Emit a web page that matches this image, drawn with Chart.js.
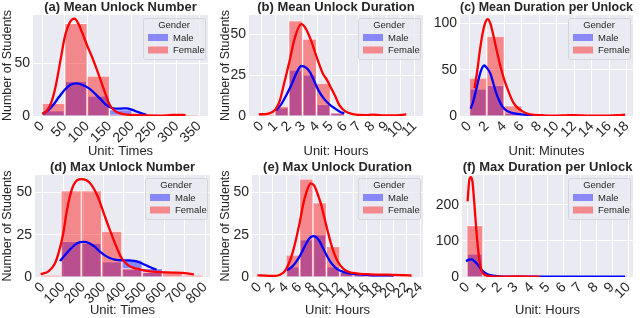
<!DOCTYPE html>
<html>
<head>
<meta charset="utf-8">
<script src="https://cdn.jsdelivr.net/npm/chart.js@4.4.1/dist/chart.umd.min.js"></script>
<style>
  body { margin: 0; width: 640px; height: 318px; position: relative; overflow: hidden; background: #fff; }
  canvas { position: absolute; }
</style>
</head>
<body>
<script>
// ---- data ----
const titles = ['(a) Mean Unlock Number', '(b) Mean Unlock Duration', '(c) Mean Duration per Unlock',
                '(d) Max Unlock Number', '(e) Max Unlock Duration', '(f) Max Duration per Unlock'];
const xLabels = ['Unit: Times', 'Unit: Hours', 'Unit: Minutes', 'Unit: Times', 'Unit: Hours', 'Unit: Hours'];
const yLabel = 'Number of Students';
const genders = ['Male', 'Female'];

// (a)
const aXTicks = [0, 50, 100, 150, 200, 250, 300, 350];
const aYTicks = [0, 50];
const aBins = [25, 75, 125, 175, 225, 275, 325];
const aFemale = [12, 88, 38, 1, 0, 0, 1];
const aMale = [5, 33, 19, 6, 0, 0, 0];
const aFemaleKdeX = [0, 10, 20, 30, 40, 50, 60, 72, 80, 90, 100, 110, 120, 130, 140, 150, 160, 170, 185, 200, 230, 260, 285, 300, 320];
const aFemaleKdeY = [2, 5, 13, 29, 52, 75, 88, 92.5, 88, 78, 67, 57, 46, 34, 22, 11, 5.5, 3, 1.5, 1, 0.5, 0.4, 0.8, 1.1, 0.9];
const aMaleKdeX = [0, 12, 25, 37, 50, 62, 76, 90, 105, 118, 130, 140, 150, 162, 175, 188, 200, 212, 225, 233];
const aMaleKdeY = [2, 5, 11, 18, 25, 29.5, 31, 29.5, 26, 21, 16, 11.5, 8.5, 7, 7, 7.3, 6, 4, 2, 1];

// (b)
const bXTicks = [0, 1, 2, 3, 4, 5, 6, 7, 8, 9, 10, 11];
const bYTicks = [0, 25, 50];
const bBins = [0.45, 1.45, 2.45, 3.45, 4.45, 5.45];
const bFemale = [1, 6, 58, 47, 20, 2];
const bMale = [0, 5, 28, 25, 7, 2];
const bFemaleKdeX = [-0.2, 0.5, 1, 1.3, 1.6, 2, 2.4, 2.86, 3.2, 3.6, 4, 4.4, 4.7, 5, 5.3, 5.6, 6, 6.5, 7, 7.5, 8, 8.5, 9, 9.5, 10, 10.4];
const bFemaleKdeY = [1, 1.5, 4, 9, 19, 33, 48, 56, 53, 45, 35, 26, 22, 17, 12, 6.5, 3, 1.3, 0.6, 0.5, 0.8, 0.5, 0.3, 0.3, 0.6, 1];
const bMaleKdeX = [1.05, 1.4, 1.8, 2.2, 2.5, 2.86, 3.2, 3.5, 3.8, 4.1, 4.4, 4.7, 5, 5.3, 5.6, 5.95];
const bMaleKdeY = [3.5, 7, 13, 20, 26, 30.5, 29.5, 26.5, 21, 15.5, 11.5, 8.5, 6.2, 4.5, 2.8, 1.5];

// (c)
const cXTicks = [0, 2, 4, 6, 8, 10, 12, 14, 16, 18];
const cYTicks = [0, 50, 100];
const cBins = [1, 3, 5, 7, 9, 11, 13, 15, 17];
const cFemale = [41, 86, 11, 1, 0, 1, 0, 0, 1];
const cMale = [29, 33, 3, 1, 0, 0, 0, 0, 0];
const cFemaleKdeX = [0.6, 0.9, 1.2, 1.5, 1.8, 2.1, 2.4, 2.8, 3.2, 3.6, 4, 4.5, 5, 5.5, 6, 6.5, 7, 8, 9, 10, 11, 12, 13, 14, 15, 16, 17, 17.8];
const cFemaleKdeY = [30, 48, 70, 88, 100, 104.5, 100, 85, 68, 52, 39, 26, 15, 9, 5.5, 3, 1.8, 0.8, 0.4, 0.4, 0.7, 1, 0.6, 0.3, 0.3, 0.4, 0.9, 1.5];
const cMaleKdeX = [0.15, 0.4, 0.7, 1, 1.3, 1.7, 2, 2.4, 2.7, 3, 3.4, 3.8, 4.3, 5, 6, 7, 8, 8.5];
const cMaleKdeY = [8, 14, 25, 37, 48, 54.5, 52, 46, 37, 27, 17, 10, 5.5, 3, 1.8, 1, 0.5, 0.5];

// (d)
const dXTicks = [0, 100, 200, 300, 400, 500, 600, 700, 800];
const dYTicks = [0, 25, 50];
const dBins = [40, 140, 240, 340, 440, 540, 640, 740];
const dFemale = [1, 51, 51, 27, 5, 3, 3, 1];
const dMale = [0, 21, 20, 9, 10, 5, 0, 0];
const dFemaleKdeX = [-10, 30, 60, 80, 100, 120, 150, 192, 230, 270, 300, 330, 356, 385, 400, 420, 445, 480, 520, 560, 610, 650, 690, 720, 745];
const dFemaleKdeY = [1.6, 3.5, 8, 15, 25, 40, 54, 58, 56, 48, 38, 28, 20, 12, 9.5, 7, 5.5, 4.5, 3.5, 3, 2.7, 2.6, 2.5, 2, 1.5];
const dMaleKdeX = [85, 110, 140, 170, 200, 230, 260, 282, 310, 340, 370, 400, 430, 463, 490, 520, 545, 561];
const dMaleKdeY = [9.5, 13, 17, 20, 20.8, 20, 17.5, 15, 12.5, 10.8, 10, 9.9, 9.8, 9.3, 8, 6.3, 5, 4.4];

// (e)
const eXTicks = [0, 2, 4, 6, 8, 10, 12, 14, 16, 18, 20, 22, 24];
const eYTicks = [0, 25, 50];
const eBins = [1, 3, 5, 7, 9, 11, 13, 15, 17, 19, 21];
const eFemale = [1, 0, 13, 58, 44, 18, 3, 2, 1, 1, 1];
const eMale = [0, 0, 6, 22, 25, 6, 3, 1, 1, 1, 0];
const eFemaleKdeX = [-0.3, 1, 2, 3, 3.8, 4.5, 5, 5.5, 6, 6.5, 7, 7.65, 8.2, 8.7, 9.2, 9.7, 10.2, 10.7, 11.2, 11.7, 12.5, 13.3, 14, 15, 16.5, 18, 20, 21.5, 22.7];
const eFemaleKdeY = [1, 0.8, 0.6, 1.2, 3.5, 9, 15, 23, 32, 42.5, 50, 55.4, 54, 49, 43, 35, 27, 19.5, 13.5, 9, 5, 3, 2.4, 1.9, 1.6, 1.4, 1.3, 1.1, 0.9];
const eMaleKdeX = [4.1, 4.7, 5.3, 5.9, 6.5, 7, 7.5, 8, 8.5, 9, 9.5, 10, 10.5, 11, 11.5, 12.3, 13, 14, 15.5, 17, 18.5, 20];
const eMaleKdeY = [4, 5.5, 8, 11.5, 16, 20, 23, 24.2, 23.5, 21, 17, 13, 9.5, 6.9, 5, 3.3, 2.5, 1.8, 1.3, 1, 1, 0.9];

// (f)
const fXTicks = [0, 1, 2, 3, 4, 5, 6, 7, 8, 9, 10];
const fYTicks = [0, 100, 200];
const fBins = [0.45, 1.45, 2.45, 3.45, 4.45, 5.45, 6.45, 7.45, 8.45, 9.45];
const fFemale = [143, 3, 1, 1, 1, 0, 0, 0, 0, 0];
const fMale = [64, 3, 1, 1, 1, 1, 0, 1, 0, 1];
const fFemaleKdeX = [0, 0.1, 0.2, 0.3, 0.4, 0.5, 0.6, 0.7, 0.8, 0.9, 1, 1.2, 1.5, 2, 2.5, 3, 3.5, 4, 4.5];
const fFemaleKdeY = [210, 268, 277, 265, 215, 155, 100, 58, 30, 15, 8, 4, 2, 1, 1, 2, 1, 0.8, 0.6];
const fMaleKdeX = [-0.1, 0.1, 0.25, 0.4, 0.55, 0.7, 0.85, 1, 1.2, 1.4, 1.7, 2, 3, 4, 5, 6, 7, 8, 9, 9.8];
const fMaleKdeY = [44, 48, 49, 45, 38, 30, 21, 14, 8, 5, 3, 2, 1.2, 1, 1, 1, 1, 1, 1, 1];

// ---- look ----
const FONT = '"Liberation Sans", Arial, Helvetica, sans-serif';
const TEXT = '#262626';
const BG = '#EAEAF2';
const maleFill = 'rgba(0, 0, 255, 0.42)';
const femaleFill = 'rgba(255, 0, 0, 0.42)';

Chart.defaults.font.family = FONT;
Chart.defaults.color = TEXT;

// canvas box [left, top, width, height] and plot area [left, top, right, bottom], page pixels
const panels = [
  { canvas: [0, 0, 218, 159],   area: [33, 15, 208, 116],  x: [-21, 370],    yMax: 96,   yTitle: true,
    xTicks: aXTicks, yTicks: aYTicks, bins: aBins, female: aFemale, male: aMale,
    fk: [aFemaleKdeX, aFemaleKdeY], mk: [aMaleKdeX, aMaleKdeY] },
  { canvas: [218, 0, 208, 159], area: [249, 15, 423, 116], x: [-0.9, 11.6],  yMax: 61.6, yTitle: true,
    xTicks: bXTicks, yTicks: bYTicks, bins: bBins, female: bFemale, male: bMale,
    fk: [bFemaleKdeX, bFemaleKdeY], mk: [bMaleKdeX, bMaleKdeY] },
  { canvas: [426, 0, 214, 159], area: [460, 15, 633, 116], x: [-1.06, 18.7], yMax: 109,  yTitle: false,
    xTicks: cXTicks, yTicks: cYTicks, bins: cBins, female: cFemale, male: cMale,
    fk: [cFemaleKdeX, cFemaleKdeY], mk: [cMaleKdeX, cMaleKdeY] },
  { canvas: [0, 159, 218, 159], area: [35, 175, 210, 277], x: [-38, 824],    yMax: 60.4, yTitle: true,
    xTicks: dXTicks, yTicks: dYTicks, bins: dBins, female: dFemale, male: dMale,
    fk: [dFemaleKdeX, dFemaleKdeY], mk: [dMaleKdeX, dMaleKdeY] },
  { canvas: [218, 159, 208, 159], area: [252, 175, 423, 277], x: [-1.1, 24.4], yMax: 60.4, yTitle: true,
    xTicks: eXTicks, yTicks: eYTicks, bins: eBins, female: eFemale, male: eMale,
    fk: [eFemaleKdeX, eFemaleKdeY], mk: [eMaleKdeX, eMaleKdeY] },
  { canvas: [426, 159, 214, 159], area: [462, 175, 633, 277], x: [-0.35, 10.3], yMax: 283, yTitle: false,
    xTicks: fXTicks, yTicks: fYTicks, bins: fBins, female: fFemale, male: fMale,
    fk: [fFemaleKdeX, fFemaleKdeY], mk: [fMaleKdeX, fMaleKdeY] }
];

const plotBackground = {
  id: 'plotBackground',
  beforeDraw(chart) {
    const { ctx, chartArea: a } = chart;
    ctx.save();
    ctx.fillStyle = BG;
    ctx.fillRect(a.left, a.top, a.right - a.left, a.bottom - a.top);
    ctx.restore();
  }
};

// seaborn style legend box in the upper right corner
const genderLegend = {
  id: 'genderLegend',
  afterDraw(chart) {
    const { ctx, chartArea: a } = chart;
    const w = 62, h = 41;
    const x = a.right - w - 3, y = a.top + 3;
    ctx.save();
    ctx.beginPath();
    ctx.roundRect(x + 0.5, y + 0.5, w, h, 2);
    ctx.fillStyle = 'rgba(234, 234, 242, 0.8)';
    ctx.fill();
    ctx.strokeStyle = '#d4d4dc';
    ctx.lineWidth = 1;
    ctx.stroke();
    ctx.font = '9.5px ' + FONT;
    ctx.fillStyle = TEXT;
    ctx.textBaseline = 'middle';
    ctx.textAlign = 'center';
    ctx.fillText('Gender', x + w / 2, y + 7.5);
    ctx.textAlign = 'left';
    [maleFill, femaleFill].forEach((c, i) => {
      const cy = y + 19.5 + i * 12.5;
      ctx.fillStyle = c;
      ctx.fillRect(x + 5, cy - 3.5, 20, 7);
      ctx.fillStyle = TEXT;
      ctx.fillText(genders[i], x + 30, cy + 0.5);
    });
    ctx.restore();
  }
};

function histBars(label, bins, counts, color) {
  return {
    type: 'bar', label: label,
    data: bins.map((b, i) => ({ x: b, y: counts[i] })),
    backgroundColor: color, borderColor: '#ffffff', borderWidth: 0.8,
    barPercentage: 1, categoryPercentage: 1, grouped: false
  };
}

function kdeLine(label, xs, ys, color) {
  return {
    type: 'line', label: label,
    data: xs.map((x, i) => ({ x: x, y: ys[i] })),
    borderColor: color, borderWidth: 2.3, pointRadius: 0,
    cubicInterpolationMode: 'monotone', fill: false
  };
}

panels.forEach((p, k) => {
  const [cx, cy, cw, ch] = p.canvas;
  const [l, t, r, b] = p.area;
  const canvas = document.createElement('canvas');
  canvas.width = cw;
  canvas.height = ch;
  canvas.style.left = cx + 'px';
  canvas.style.top = cy + 'px';
  canvas.style.width = cw + 'px';
  canvas.style.height = ch + 'px';
  document.body.appendChild(canvas);

  const grid = { color: '#ffffff', lineWidth: 1, drawTicks: false, offset: false };

  new Chart(canvas, {
    type: 'bar',
    data: {
      datasets: [
        kdeLine('Female', p.fk[0], p.fk[1], 'red'),
        kdeLine('Male', p.mk[0], p.mk[1], 'blue'),
        histBars('Female', p.bins, p.female, femaleFill),
        histBars('Male', p.bins, p.male, maleFill)
      ]
    },
    options: {
      responsive: false,
      animation: false,
      layout: { padding: { left: 0, top: 0, bottom: 0, right: cx + cw - r } },
      plugins: {
        legend: { display: false },
        tooltip: { enabled: false },
        title: {
          display: true, text: titles[k], color: TEXT, padding: 0, fullSize: false,
          font: { size: 13, weight: 'bold', lineHeight: (t - cy) + 'px' }
        }
      },
      scales: {
        x: {
          type: 'linear', min: p.x[0], max: p.x[1], offset: false,
          grid: grid, border: { display: false },
          ticks: { autoSkip: false, minRotation: 45, maxRotation: 45, padding: 2, color: TEXT, font: { size: 14 } },
          title: { display: true, text: xLabels[k], color: TEXT, padding: { top: -1.5, bottom: 0 }, font: { size: 13 } },
          afterBuildTicks: s => { s.ticks = p.xTicks.map(v => ({ value: v })); },
          afterFit: s => { s.height = cy + ch - b; s.paddingLeft = 0; s.paddingRight = 0; }
        },
        y: {
          type: 'linear', min: 0, max: p.yMax,
          grid: grid, border: { display: false },
          ticks: { padding: 3, color: TEXT, font: { size: 14 } },
          title: { display: p.yTitle, text: yLabel, color: TEXT, padding: 0, font: { size: 12.5 } },
          afterBuildTicks: s => { s.ticks = p.yTicks.map(v => ({ value: v })); },
          afterFit: s => { s.width = l - cx; s.paddingTop = 0; s.paddingBottom = 0; }
        }
      }
    },
    plugins: [plotBackground, genderLegend]
  });
});
</script>
</body>
</html>
